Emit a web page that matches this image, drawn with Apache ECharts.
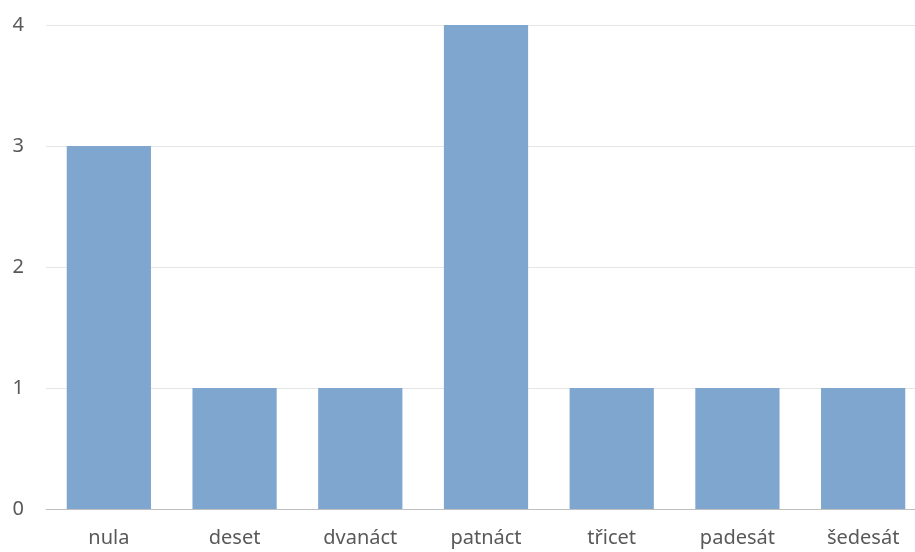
<!DOCTYPE html>
<html lang="en">
<head>
    <meta charset="UTF-8">
    <title>Chart</title>
    <script src="https://cdn.jsdelivr.net/npm/echarts@6/dist/echarts.min.js"></script>
    <style>
        html, body { margin: 0; padding: 0; background: #fff; overflow: hidden; }
        #main { width: 926px; height: 552px; }
    </style>
</head>
<body>
<div id="main"></div>
<script type="text/javascript">
    // data
    var categories = ['nula', 'deset', 'dvanáct', 'patnáct', 'třicet', 'padesát', 'šedesát'];
    var values = [3, 1, 1, 4, 1, 1, 1];

    // chart is a bit wider than the window, the last column is cut like in the original
    var chart = echarts.init(document.getElementById('main'));
    chart.setOption({
        animation: false,
        grid: { left: 46, right: 0, top: 25, bottom: 43, containLabel: false },
        xAxis: {
            type: 'category',
            data: categories,
            axisTick: { show: false },
            axisLine: { lineStyle: { color: '#bfbfbf', width: 1 } },
            axisLabel: { color: '#595959', fontSize: 20, margin: 19, fontFamily: 'Noto Sans', interval: 0 }
        },
        yAxis: {
            type: 'value',
            min: 0,
            max: 4,
            interval: 1,
            axisLine: { show: false },
            axisTick: { show: false },
            splitLine: { lineStyle: { color: '#e6e6e6', width: 1 } },
            axisLabel: { color: '#595959', fontSize: 20, margin: 22, fontFamily: 'Noto Sans' }
        },
        series: [{
            type: 'bar',
            data: values,
            barCategoryGap: '33%',
            itemStyle: { color: '#7fa6cf' }
        }]
    });
</script>
</body>
</html>
